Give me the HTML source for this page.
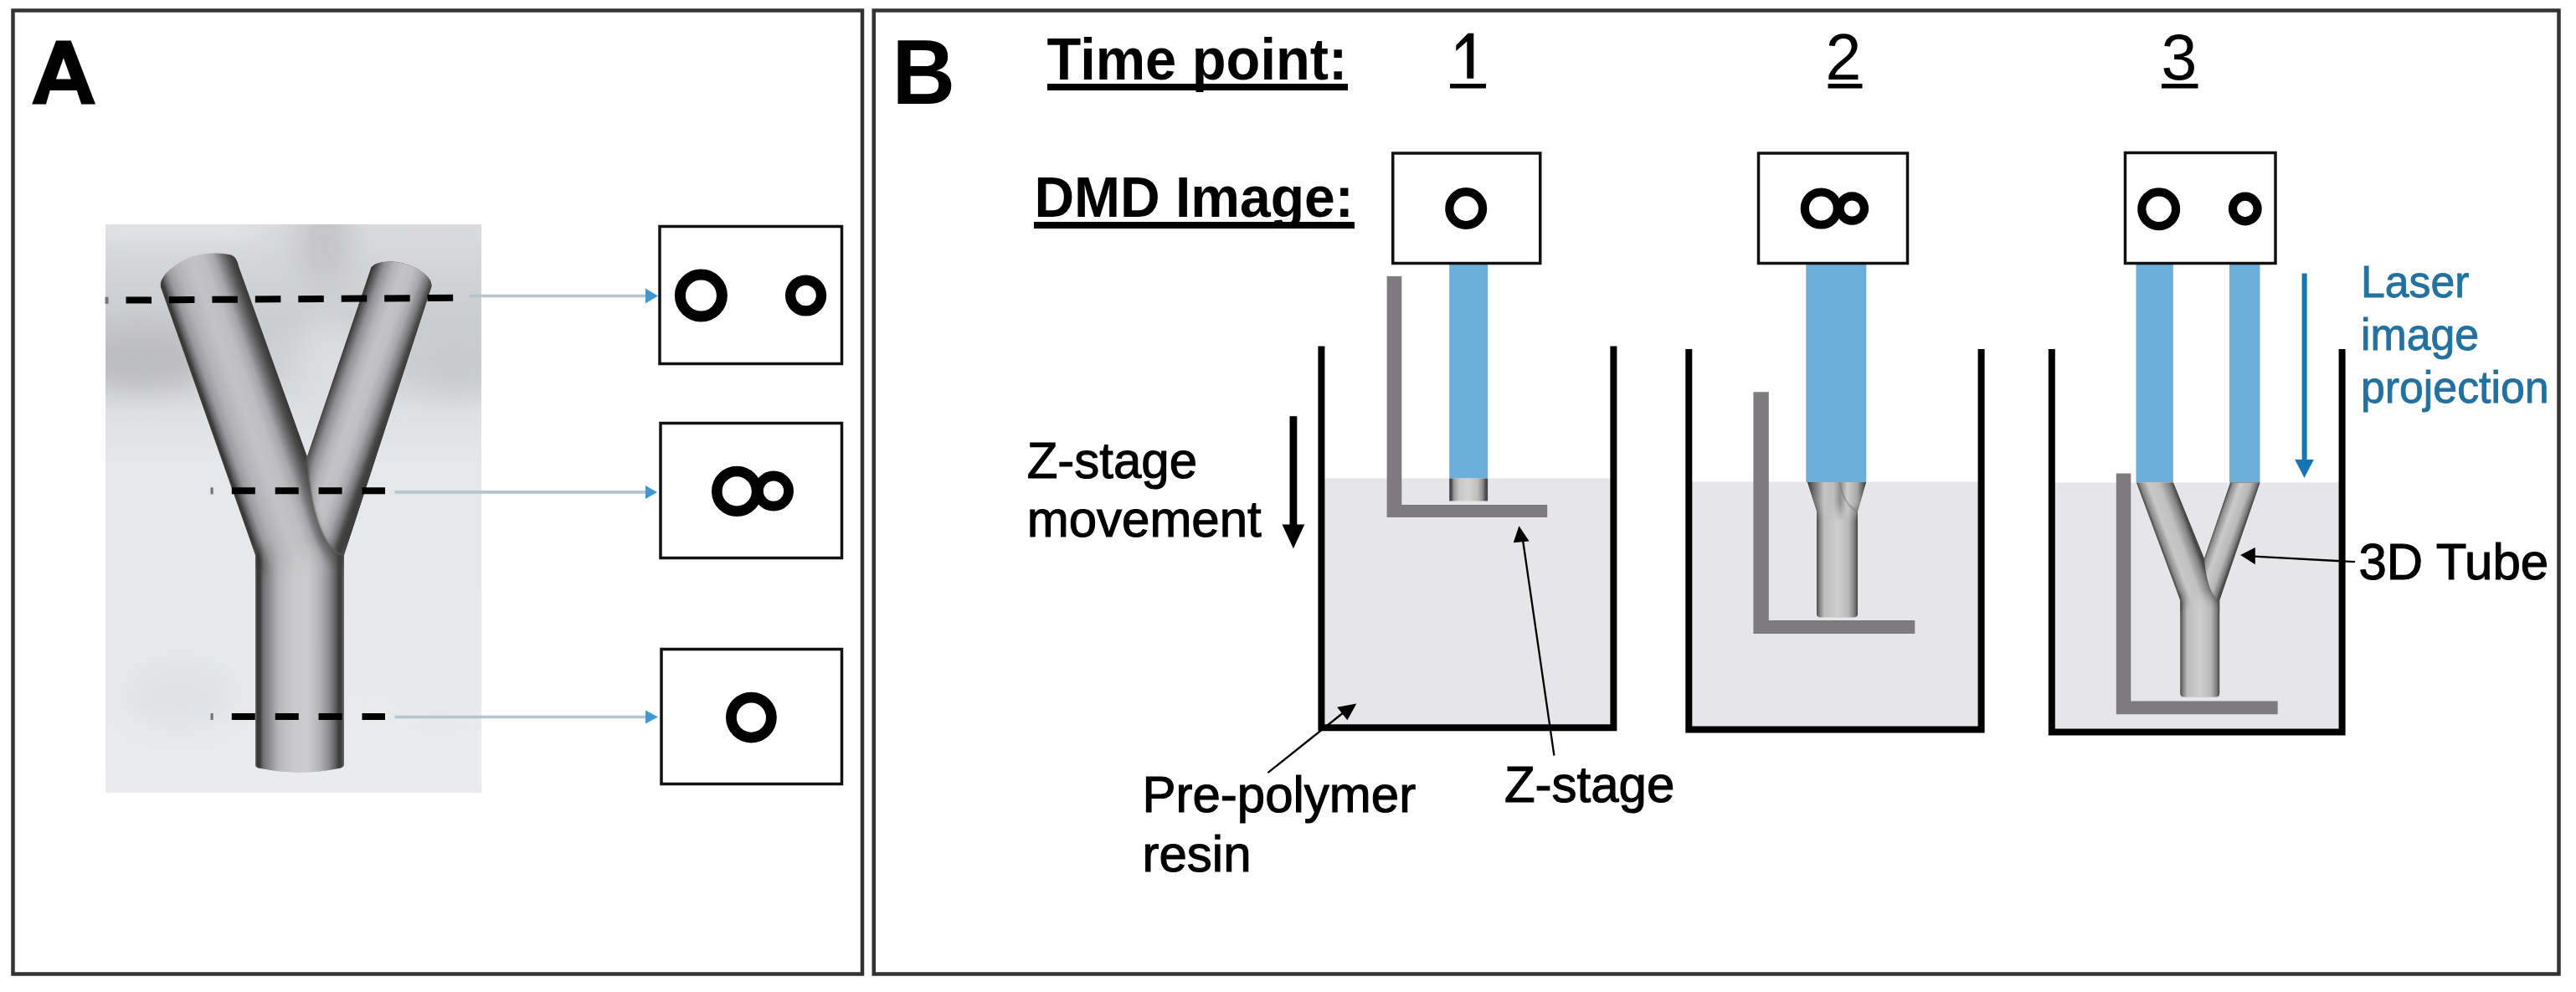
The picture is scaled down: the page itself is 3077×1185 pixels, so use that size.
<!DOCTYPE html>
<html><head><meta charset="utf-8">
<style>
html,body{margin:0;padding:0;background:#fff;width:3077px;height:1185px;overflow:hidden}
svg{display:block}
text{font-family:"Liberation Sans",sans-serif}
</style></head>
<body>
<svg width="3077" height="1185" viewBox="0 0 3077 1185">
<defs>
  <linearGradient id="bgA" x1="0" y1="268" x2="0" y2="947" gradientUnits="userSpaceOnUse">
    <stop offset="0" stop-color="#d9dadc"/>
    <stop offset="0.08" stop-color="#d3d4d6"/>
    <stop offset="0.17" stop-color="#cbccce"/>
    <stop offset="0.26" stop-color="#cfd0d2"/>
    <stop offset="0.33" stop-color="#dfe0e2"/>
    <stop offset="0.42" stop-color="#e6e7e9"/>
    <stop offset="1" stop-color="#eaebed"/>
  </linearGradient>
  <clipPath id="bgclip"><rect x="126" y="268" width="449" height="679"/></clipPath>
  <filter id="blur18" x="-50%" y="-50%" width="200%" height="200%"><feGaussianBlur stdDeviation="18"/></filter>
  <linearGradient id="fadeStem" x1="0" y1="645" x2="0" y2="690" gradientUnits="userSpaceOnUse">
    <stop offset="0" stop-color="#fff" stop-opacity="0"/><stop offset="1" stop-color="#fff" stop-opacity="1"/>
  </linearGradient>
  <mask id="stemMask"><rect x="280" y="600" width="160" height="340" fill="url(#fadeStem)"/></mask>
  <linearGradient id="stemA" x1="305" y1="0" x2="411" y2="0" gradientUnits="userSpaceOnUse">
    <stop offset="0" stop-color="#6a6a6a"/>
    <stop offset="0.025" stop-color="#353535"/>
    <stop offset="0.055" stop-color="#3e3e3e"/>
    <stop offset="0.09" stop-color="#707072"/>
    <stop offset="0.2" stop-color="#9e9ea0"/>
    <stop offset="0.26" stop-color="#b6b6b9"/>
    <stop offset="0.42" stop-color="#c9c9cb"/>
    <stop offset="0.6" stop-color="#cbcbcd"/>
    <stop offset="0.73" stop-color="#b2b2b5"/>
    <stop offset="0.83" stop-color="#8c8c8e"/>
    <stop offset="0.9" stop-color="#606062"/>
    <stop offset="0.945" stop-color="#3a3a3a"/>
    <stop offset="0.975" stop-color="#464646"/>
    <stop offset="1" stop-color="#6e6e6e"/>
  </linearGradient>
  <linearGradient id="lbA" x1="194.4" y1="340" x2="281.2" y2="309.4" gradientUnits="userSpaceOnUse">
    <stop offset="0" stop-color="#3a3a3a"/>
    <stop offset="0.05" stop-color="#6a6a6c"/>
    <stop offset="0.12" stop-color="#9a9a9c"/>
    <stop offset="0.25" stop-color="#b4b4b6"/>
    <stop offset="0.45" stop-color="#c3c3c5"/>
    <stop offset="0.62" stop-color="#bebec0"/>
    <stop offset="0.75" stop-color="#a6a6a8"/>
    <stop offset="0.86" stop-color="#707072"/>
    <stop offset="0.94" stop-color="#4a4a4a"/>
    <stop offset="1" stop-color="#3a3a3a"/>
  </linearGradient>
  <linearGradient id="rbA" x1="446.2" y1="318" x2="516.9" y2="343.1" gradientUnits="userSpaceOnUse">
    <stop offset="0" stop-color="#404040"/>
    <stop offset="0.06" stop-color="#606062"/>
    <stop offset="0.15" stop-color="#909092"/>
    <stop offset="0.3" stop-color="#b4b4b6"/>
    <stop offset="0.45" stop-color="#c3c3c5"/>
    <stop offset="0.6" stop-color="#c0c0c2"/>
    <stop offset="0.75" stop-color="#a8a8aa"/>
    <stop offset="0.87" stop-color="#7a7a7c"/>
    <stop offset="0.95" stop-color="#4a4a4a"/>
    <stop offset="1" stop-color="#3e3e3e"/>
  </linearGradient>
  <clipPath id="yclip">
    <path d="M192,343 C190,332 203,318 228,307 C245,302 262,301 276,304.5 Q283,307 285,318 L366.9,545.4 L443.5,319 Q450,311.5 470,312.5 Q497,316 511,331 Q515.5,336 515.5,342 L411,663 L411,914 Q410,917 404,918 Q358,927 312,918 Q305,917 305,914 L305,663 Z"/>
  </clipPath>
  <linearGradient id="cyl1" x1="1731.2" y1="0" x2="1777.1" y2="0" gradientUnits="userSpaceOnUse">
    <stop offset="0" stop-color="#3e4046"/><stop offset="0.06" stop-color="#4e5056"/><stop offset="0.12" stop-color="#9a9a9c"/><stop offset="0.26" stop-color="#c8c8c8"/><stop offset="0.5" stop-color="#d2d2d2"/><stop offset="0.74" stop-color="#bdbdbd"/><stop offset="0.87" stop-color="#8a8a8c"/><stop offset="0.94" stop-color="#4e5056"/><stop offset="1" stop-color="#3e4046"/>
  </linearGradient>
  <linearGradient id="cyl2" x1="2170" y1="0" x2="2219" y2="0" gradientUnits="userSpaceOnUse">
    <stop offset="0" stop-color="#454545"/><stop offset="0.06" stop-color="#7a7a7a"/><stop offset="0.18" stop-color="#bdbdbd"/><stop offset="0.5" stop-color="#cecece"/><stop offset="0.78" stop-color="#b8b8b8"/><stop offset="0.92" stop-color="#808080"/><stop offset="1" stop-color="#444444"/>
  </linearGradient>
  <linearGradient id="flare2" x1="2159" y1="0" x2="2229" y2="0" gradientUnits="userSpaceOnUse">
    <stop offset="0" stop-color="#3a3a3a"/><stop offset="0.1" stop-color="#6a6a6a"/><stop offset="0.28" stop-color="#c2c2c2"/><stop offset="0.45" stop-color="#bdbdbd"/><stop offset="0.56" stop-color="#8e8e8e"/><stop offset="0.68" stop-color="#cdcdcd"/><stop offset="0.85" stop-color="#a8a8a8"/><stop offset="1" stop-color="#3a3a3a"/>
  </linearGradient>
  <clipPath id="t2clip"><path d="M2159,576 L2229,576 L2219,610.4 L2219,733 Q2219,737.4 2215,737.4 L2174,737.4 Q2170,737.4 2170,733 L2170,610.4 Z"/></clipPath>
  <clipPath id="t3clip"><path d="M2552,576.5 L2596.1,576.5 L2633,667.3 L2664.1,576.5 L2699.5,576.5 L2651.2,717.2 L2651.2,828 Q2651.2,832.5 2647,832.5 L2608.5,832.5 Q2604.3,832.5 2604.3,828 L2604.3,717.2 Z"/></clipPath>
  <linearGradient id="lb3" x1="2552" y1="576.5" x2="2590.7" y2="562.1" gradientUnits="userSpaceOnUse">
    <stop offset="0" stop-color="#454545"/><stop offset="0.08" stop-color="#858585"/><stop offset="0.3" stop-color="#c8c8c8"/><stop offset="0.6" stop-color="#c0c0c0"/><stop offset="0.86" stop-color="#858585"/><stop offset="1" stop-color="#454545"/>
  </linearGradient>
  <linearGradient id="rb3" x1="2664.1" y1="576.5" x2="2695.6" y2="587.7" gradientUnits="userSpaceOnUse">
    <stop offset="0" stop-color="#454545"/><stop offset="0.1" stop-color="#8e8e8e"/><stop offset="0.35" stop-color="#cbcbcb"/><stop offset="0.7" stop-color="#b8b8b8"/><stop offset="0.9" stop-color="#7a7a7a"/><stop offset="1" stop-color="#454545"/>
  </linearGradient>
  <linearGradient id="stem3" x1="2604.3" y1="0" x2="2651.2" y2="0" gradientUnits="userSpaceOnUse">
    <stop offset="0" stop-color="#454545"/><stop offset="0.06" stop-color="#7a7a7a"/><stop offset="0.18" stop-color="#bdbdbd"/><stop offset="0.5" stop-color="#cecece"/><stop offset="0.78" stop-color="#b8b8b8"/><stop offset="0.92" stop-color="#808080"/><stop offset="1" stop-color="#444444"/>
  </linearGradient>
  <linearGradient id="fade3" x1="0" y1="705" x2="0" y2="728" gradientUnits="userSpaceOnUse">
    <stop offset="0" stop-color="#fff" stop-opacity="0"/><stop offset="1" stop-color="#fff" stop-opacity="1"/>
  </linearGradient>
  <mask id="stem3Mask"><rect x="2590" y="690" width="80" height="160" fill="url(#fade3)"/></mask>
  <linearGradient id="fade2" x1="0" y1="600" x2="0" y2="622" gradientUnits="userSpaceOnUse">
    <stop offset="0" stop-color="#fff" stop-opacity="1"/><stop offset="1" stop-color="#fff" stop-opacity="0"/>
  </linearGradient>
  <mask id="flare2Mask"><rect x="2150" y="570" width="90" height="60" fill="url(#fade2)"/></mask>
  <filter id="blur3" x="-50%" y="-50%" width="200%" height="200%"><feGaussianBlur stdDeviation="3.5"/></filter>
</defs>

<!-- panel frames -->
<rect x="15.5" y="12.5" width="1014.5" height="1151" fill="none" stroke="#333" stroke-width="4.5"/>
<rect x="1043.75" y="12.5" width="2012.75" height="1151" fill="none" stroke="#333" stroke-width="4.5"/>

<!-- Panel letters -->
<path fill-rule="evenodd" fill="#000" d="M38.2,124.6 L67,48.4 L84.8,48.4 L114,124.6 L97.2,124.6 L91.7,107.9 L59.7,107.9 L55,124.6 Z M75.9,69.2 L66.9,94.4 L84.9,94.4 Z"/>
<g transform="translate(1065.4,124) scale(1.046,1.10)"><text x="0" y="0" font-size="100" font-weight="bold" fill="#000">B</text></g>

<!-- ===== PANEL A ===== -->
<g clip-path="url(#bgclip)">
  <rect x="126" y="268" width="449" height="679" fill="url(#bgA)"/>
  <g filter="url(#blur18)">
    <rect x="110" y="240" width="200" height="45" fill="#e4e5e7"/>
    <rect x="360" y="240" width="55" height="95" fill="#c2c3c5"/>
    <rect x="440" y="240" width="140" height="50" fill="#dadbdd"/>
    <ellipse cx="170" cy="428" rx="80" ry="36" fill="#bbbcbe"/>
    <ellipse cx="545" cy="432" rx="55" ry="34" fill="#c8c9cb"/>
    <ellipse cx="395" cy="450" rx="45" ry="70" fill="#dcdde0"/>
    <ellipse cx="215" cy="830" rx="70" ry="45" fill="#e1e2e4"/>
    <ellipse cx="525" cy="820" rx="50" ry="60" fill="#e6e9ec"/>
  </g>
</g>

<!-- big Y tube -->
<g clip-path="url(#yclip)">
  <rect x="150" y="280" width="400" height="660" fill="#c0c0c0"/>
  <rect x="150" y="280" width="400" height="420" fill="url(#lbA)"/>
  <path d="M366.9,545.4 L446.2,318 L440,280 L560,280 L410,663 C392,660 371,625 366.9,545.4 Z" fill="url(#rbA)"/>
  <rect x="290" y="600" width="140" height="340" fill="url(#stemA)" mask="url(#stemMask)"/>
  <path d="M365,550 C366,610 380,645 400,668" fill="none" stroke="#5c5c5e" stroke-width="9" opacity="0.45" filter="url(#blur3)"/>
  <path d="M366.9,545.4 C371,625 392,660 410,663" fill="none" stroke="#606060" stroke-width="2.5" opacity="0.55"/>
</g>

<!-- dashed lines -->
<g stroke="#000" stroke-width="8">
  <line x1="150.5" y1="358.6" x2="541.5" y2="355.8" stroke-dasharray="30.5 20.95"/>
  <line x1="276.8" y1="586.3" x2="460" y2="586.3" stroke-dasharray="28 23.9"/>
  <line x1="276.8" y1="856" x2="460" y2="856" stroke-dasharray="28 23.9"/>
</g>
<g fill="#737373">
  <rect x="125.5" y="354.8" width="4" height="8"/>
  <rect x="251.5" y="582.3" width="3.2" height="8"/>
  <rect x="251.5" y="852" width="3.2" height="8"/>
</g>

<!-- DMD boxes A -->
<rect x="788" y="270.5" width="217.5" height="164" fill="#fff" stroke="#111" stroke-width="3.5"/>
<rect x="789" y="505.5" width="216.5" height="161" fill="#fff" stroke="#111" stroke-width="3.5"/>
<rect x="790" y="775.5" width="215.5" height="161" fill="#fff" stroke="#111" stroke-width="3.5"/>
<g fill="none" stroke="#000">
  <circle cx="837.4" cy="353.1" r="25" stroke-width="13"/>
  <circle cx="962.6" cy="353" r="18.4" stroke-width="12.4"/>
  <circle cx="880.2" cy="586.9" r="23.9" stroke-width="12.6"/>
  <circle cx="924" cy="586.6" r="18.1" stroke-width="11.8"/>
  <circle cx="897.4" cy="857.1" r="24" stroke-width="12.8"/>
</g>

<!-- arrows A -->
<g stroke="#b4c5d0" stroke-width="3.6">
  <line x1="561" y1="353.5" x2="773" y2="353.5"/>
  <line x1="471.5" y1="587.9" x2="773" y2="587.9"/>
  <line x1="471.5" y1="856.5" x2="773" y2="856.5"/>
</g>
<g fill="#3f98d5">
  <path d="M771,344.5 L786,353.5 L771,362.5 Z"/>
  <path d="M771,579.9 L785,587.9 L771,595.9 Z"/>
  <path d="M771,848.5 L786,856.5 L771,864.5 Z"/>
</g>

<!-- ===== PANEL B ===== -->
<g transform="translate(1250.6,95) scale(1,1.04)"><text x="0" y="0" font-size="66.8" font-weight="bold" fill="#000">Time point:</text></g>
<rect x="1251" y="100" width="359" height="8" fill="#000"/>
<g transform="translate(1235.4,258.5) scale(1,1.05)"><text x="0" y="0" font-size="66" font-weight="bold" fill="#000">DMD Image:</text></g>
<rect x="1235" y="265" width="383" height="8" fill="#000"/>

<!-- digits -->
<path d="M1760.3,39.8 L1753.5,39.8 L1739.3,54 L1739.3,61 L1752.3,49.5 L1752.3,93.8 L1760.3,93.8 Z" fill="#000"/>
<rect x="1732" y="100" width="43" height="5.5" fill="#000"/>
<text x="2180.6" y="94.5" font-size="77" fill="#000">2</text>
<rect x="2183.5" y="100" width="41" height="5.5" fill="#000"/>
<text x="2581.4" y="94.5" font-size="77" fill="#000">3</text>
<rect x="2582" y="100" width="43.5" height="5.5" fill="#000"/>

<!-- containers: resin -->
<g fill="#e6e6e9">
  <rect x="1578" y="571.5" width="350" height="298"/>
  <rect x="2017" y="575.5" width="350" height="296"/>
  <rect x="2450.5" y="576.5" width="347.5" height="298"/>
</g>
<!-- beams -->
<g fill="#6aaed9">
  <rect x="1731.2" y="314" width="45.9" height="257.5"/>
  <rect x="2157.3" y="314" width="72" height="262"/>
  <rect x="2551.5" y="314" width="44.3" height="262.5"/>
  <rect x="2663" y="314" width="36.5" height="262.5"/>
</g>
<!-- z-stages -->
<g fill="#7e7b7f">
  <path d="M1656.6,330 L1674.3,330 L1674.3,603 L1848.2,603 L1848.2,618 L1656.6,618 Z"/>
  <path d="M2094.4,468.3 L2112.8,468.3 L2112.8,741 L2287.3,741 L2287.3,757 L2094.4,757 Z"/>
  <path d="M2527.8,565.4 L2545.3,565.4 L2545.3,837.5 L2720.7,837.5 L2720.7,853.2 L2527.8,853.2 Z"/>
</g>
<!-- small tubes -->
<rect x="1731.2" y="571.5" width="45.9" height="27" fill="url(#cyl1)"/>
<g clip-path="url(#t2clip)">
  <rect x="2150" y="570" width="90" height="170" fill="url(#cyl2)"/>
  <path d="M2159,576 L2229,576 L2219,612 L2219,625 L2170,625 L2170,612 Z" fill="url(#flare2)" mask="url(#flare2Mask)"/>
  <path d="M2198,576.5 C2200,592 2206,604 2218,611" fill="none" stroke="#7a7a7a" stroke-width="2" opacity="0.5"/>
</g>
<g clip-path="url(#t3clip)">
  <rect x="2540" y="570" width="180" height="270" fill="#bdbdbd"/>
  <rect x="2540" y="570" width="180" height="160" fill="url(#lb3)"/>
  <path d="M2633,667.3 L2664.1,576.5 L2699.5,576.5 L2649.6,717.2 C2642,712 2635,695 2633,667.3 Z" fill="url(#rb3)"/>
  <rect x="2600" y="700" width="55" height="136" fill="url(#stem3)" mask="url(#stem3Mask)"/>
</g>
<!-- container walls -->
<g fill="none" stroke="#000" stroke-width="8" stroke-linejoin="miter">
  <path d="M1578.4,413.5 L1578.4,869.2 L1927.4,869.2 L1927.4,413.5"/>
  <path d="M2017.3,417 L2017.3,871.5 L2366.6,871.5 L2366.6,417"/>
  <path d="M2450.8,417 L2450.8,874.5 L2797.6,874.5 L2797.6,417"/>
</g>
<!-- arrows B -->
<rect x="1540.5" y="497.2" width="8.8" height="130" fill="#000"/>
<path d="M1531.5,626.6 L1558.3,626.6 L1544.9,655.3 Z" fill="#000"/>
<rect x="2749.6" y="326.6" width="6" height="223" fill="#1474b4"/>
<path d="M2741.2,548.9 L2763.8,548.9 L2752.5,570.8 Z" fill="#1474b4"/>
<g stroke="#000" stroke-width="2.3" fill="none">
  <line x1="1514.4" y1="923.1" x2="1605" y2="851"/>
  <line x1="1856.4" y1="902.5" x2="1819" y2="645"/>
  <line x1="2813" y1="671.2" x2="2692" y2="664.6"/>
</g>
<g fill="#000">
  <path d="M1620.3,840.5 L1609.4,860.2 L1597.2,844.8 Z"/>
  <path d="M1814.4,628.3 L1826.6,646.6 L1807.7,648.2 Z"/>
  <path d="M2676.1,662.9 L2693.8,654.1 L2693.8,674.3 Z"/>
</g>

<!-- DMD boxes B -->
<rect x="1663.75" y="183" width="176" height="131.5" fill="#fff" stroke="#111" stroke-width="3.5"/>
<rect x="2100.5" y="183" width="178" height="131.5" fill="#fff" stroke="#111" stroke-width="3.5"/>
<rect x="2538.5" y="182.5" width="179.5" height="132" fill="#fff" stroke="#111" stroke-width="3.5"/>
<g fill="none" stroke="#000" stroke-width="10.2">
  <circle cx="1751.2" cy="249.1" r="19.9"/>
  <circle cx="2175.3" cy="249" r="19.5"/>
  <circle cx="2212.3" cy="249" r="14.7"/>
  <circle cx="2578.7" cy="249.7" r="20.35"/>
  <circle cx="2681.8" cy="249.5" r="14.8"/>
</g>

<!-- labels -->
<g transform="translate(1226.7,571.1) scale(1,1.03)"><text x="0" y="0" font-size="60" fill="#000" stroke="#000" stroke-width="1.1">Z-stage</text></g>
<g transform="translate(1226.7,641.3) scale(1,1.03)"><text x="0" y="0" font-size="60" fill="#000" stroke="#000" stroke-width="1.1">movement</text></g>
<g transform="translate(1364.5,970.4) scale(1,1.03)"><text x="0" y="0" font-size="60" fill="#000" stroke="#000" stroke-width="1.1">Pre-polymer</text></g>
<g transform="translate(1364.5,1041) scale(1,1.03)"><text x="0" y="0" font-size="60" fill="#000" stroke="#000" stroke-width="1.1">resin</text></g>
<g transform="translate(1796.9,958.2) scale(1,1.03)"><text x="0" y="0" font-size="60" fill="#000" stroke="#000" stroke-width="1.1">Z-stage</text></g>
<g transform="translate(2817.4,691.6) scale(1,1.03)"><text x="0" y="0" font-size="60" fill="#000" stroke="#000" stroke-width="1.1">3D Tube</text></g>
<g fill="#23719f" stroke="#23719f" stroke-width="0.9">
<g transform="translate(2820,355.4) scale(1,1.03)"><text x="0" y="0" font-size="51.8">Laser</text></g>
<g transform="translate(2820,417.5) scale(1,1.03)"><text x="0" y="0" font-size="51.8">image</text></g>
<g transform="translate(2820,480.7) scale(1,1.03)"><text x="0" y="0" font-size="51.8">projection</text></g>
</g>

</svg>
</body></html>
